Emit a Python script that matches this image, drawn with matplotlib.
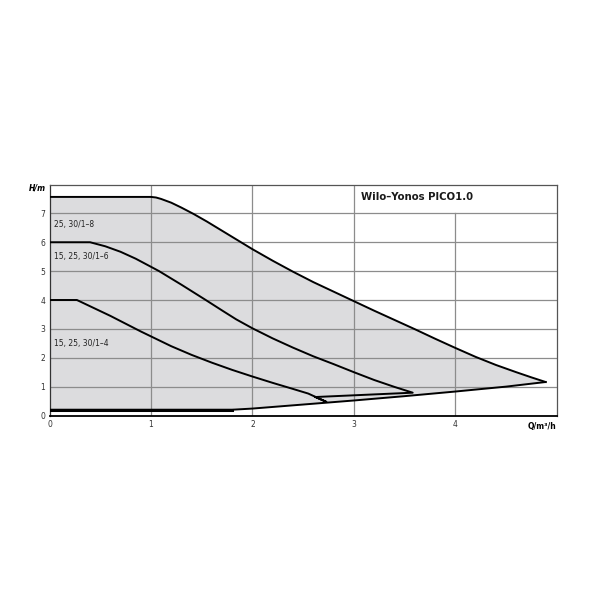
"""
Wilo-Yonos PICO1.0 pump curves (H over Q)
"""
import matplotlib
matplotlib.use('Agg')
import matplotlib.pyplot as plt

# max curve 1-8 (upper envelope) and min line (lower boundary)
q_8 = [0, 1.0, 1.05, 1.1, 1.2, 1.3, 1.42, 1.55, 1.7, 1.85, 2.0, 2.2, 2.4, 2.6,
       2.8, 3.0, 3.2, 3.4, 3.6, 3.8, 4.0, 4.2, 4.4, 4.6, 4.75, 4.89]
h_8 = [7.57, 7.57, 7.55, 7.5, 7.37, 7.2, 6.98, 6.72, 6.4, 6.08, 5.76, 5.36, 4.98, 4.62,
       4.29, 3.96, 3.63, 3.31, 2.99, 2.66, 2.34, 2.03, 1.75, 1.5, 1.32, 1.16]
q_min = [4.89, 4.5, 4.0, 3.5, 3.0, 2.5, 2.0, 1.8, 0]
h_min = [1.16, 1.0, 0.83, 0.67, 0.52, 0.38, 0.24, 0.2, 0.2]

# curve 1-6
q_6 = [0, 0.4, 0.55, 0.7, 0.85, 1.0, 1.08, 1.3, 1.54, 1.7, 1.84, 2.0, 2.2, 2.4,
       2.6, 2.8, 3.0, 3.2, 3.4, 3.58, 2.62]
h_6 = [6.0, 6.0, 5.86, 5.67, 5.43, 5.15, 5.0, 4.53, 4.0, 3.64, 3.33, 3.02, 2.67, 2.35,
       2.05, 1.78, 1.5, 1.23, 0.99, 0.79, 0.64]

# curve 1-4
q_4 = [0, 0.27, 0.6, 0.9, 1.0, 1.2, 1.4, 1.6, 1.8, 2.0, 2.2, 2.4, 2.55, 2.73, 2.62]
h_4 = [4.0, 4.0, 3.45, 2.91, 2.74, 2.4, 2.1, 1.83, 1.58, 1.35, 1.13, 0.92, 0.76, 0.47, 0.64]

x_ticks = [0, 1, 2, 3, 4]
y_ticks = [0, 1, 2, 3, 4, 5, 6, 7]

labels = ['25, 30/1–8', '15, 25, 30/1–6', '15, 25, 30/1–4']
label_h = [6.63, 5.51, 2.49]

fig = plt.figure(figsize=(6, 6), dpi=100)
ax = fig.add_axes([0.0825, 0.3075, 0.8455, 0.385])
ax.set_xlim(0, 5)
ax.set_ylim(0, 8)

# grey operating field
ax.fill(q_8 + q_min, h_8 + h_min, color='#dcdcde', lw=0, zorder=1)

# grid, drawn by hand because of the title box
for y in y_ticks[1:]:
    ax.axhline(y, color='#8c8c8c', lw=0.9, zorder=2)
for x in [1, 2, 3]:
    ax.axvline(x, color='#8c8c8c', lw=0.9, zorder=2)
ax.axvline(4, ymax=7 / 8, color='#8c8c8c', lw=0.9, zorder=2)

ax.plot(q_8, h_8, color='black', lw=1.4, zorder=3, solid_joinstyle='round')
ax.plot(q_min, h_min, color='black', lw=1.4, zorder=3)
ax.plot(q_min[-2:], h_min[-2:], color='black', lw=2.2, zorder=3)
ax.plot(q_6, h_6, color='black', lw=1.4, zorder=3, solid_joinstyle='round')
ax.plot(q_4, h_4, color='black', lw=1.4, zorder=3, solid_joinstyle='round')

for txt, h in zip(labels, label_h):
    ax.text(0.045, h, txt, fontsize=5.5, color='#222222', va='center', ha='left', zorder=4)

ax.text(3.07, 7.55, 'Wilo–Yonos PICO1.0', fontsize=7.3, fontweight='bold',
        color='#1a1a1a', va='center', ha='left', zorder=4)

ax.set_xticks(x_ticks)
ax.set_yticks(y_ticks)
ax.tick_params(length=0, labelsize=5.5, labelcolor='#333333', pad=3)
for s in ['top', 'right']:
    ax.spines[s].set_color('#555555')
    ax.spines[s].set_linewidth(0.9)
ax.spines['left'].set_color('#333333')
ax.spines['left'].set_linewidth(0.9)
ax.spines['bottom'].set_color('black')
ax.spines['bottom'].set_linewidth(1.3)

ax.text(-0.007, 0.985, 'H/m', transform=ax.transAxes, fontsize=5.5, fontweight='bold',
        style='italic', ha='right', va='center')
ax.text(1.0, -0.03, 'Q/m³/h', transform=ax.transAxes, fontsize=5.5, fontweight='bold',
        ha='right', va='top')

fig.savefig('out.png', dpi=100)
plt.close(fig)
